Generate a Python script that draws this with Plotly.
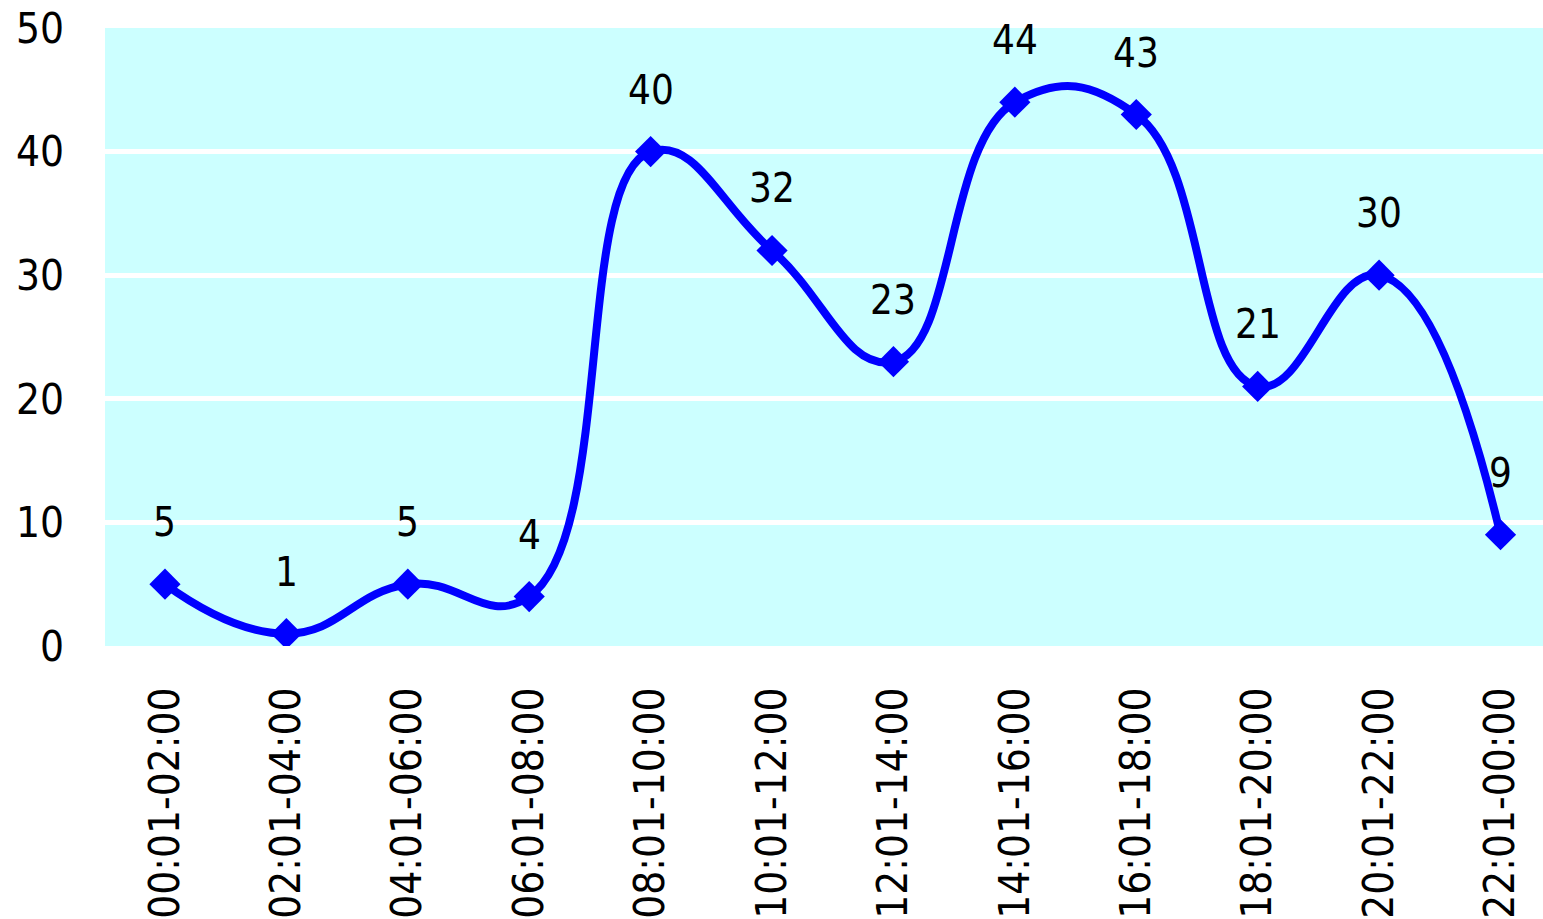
import plotly.graph_objects as go

categories = ["00:01-02:00", "02:01-04:00", "04:01-06:00", "06:01-08:00",
              "08:01-10:00", "10:01-12:00", "12:01-14:00", "14:01-16:00",
              "16:01-18:00", "18:01-20:00", "20:01-22:00", "22:01-00:00"]
values = [5, 1, 5, 4, 40, 32, 23, 44, 43, 21, 30, 9]
y_ticks = [0, 10, 20, 30, 40, 50]

FONT = "DejaVu Sans Condensed, DejaVu Sans, sans-serif"
xpos = list(range(len(categories)))

fig = go.Figure()
fig.add_trace(go.Scatter(
    x=xpos, y=values, mode="lines+markers",
    line=dict(color="#0000FF", width=8, shape="spline", smoothing=1.3),
    marker=dict(symbol="diamond", size=24, color="#0000FF"),
    hoverinfo="skip", showlegend=False,
))

for xv, v in zip(xpos, values):
    fig.add_annotation(x=xv, y=v, text=str(v), showarrow=False,
                       yanchor="middle", xanchor="center", yshift=62,
                       font=dict(family=FONT, size=40, color="#000000"))

fig.update_layout(
    width=1543, height=919,
    margin=dict(l=105, r=0, t=28, b=273),
    paper_bgcolor="#FFFFFF",
    plot_bgcolor="#CCFFFF",
    font=dict(family=FONT, size=40, color="#000000"),
    xaxis=dict(
        range=[-0.494, 11.35], tickmode="array", tickvals=xpos,
        ticktext=categories, tickangle=-90, showgrid=False, zeroline=False,
        showline=False, ticks="", ticklabelstandoff=32,
        tickfont=dict(family=FONT, size=42, color="#000000"),
    ),
    yaxis=dict(
        range=[0, 50], tickmode="array", tickvals=y_ticks,
        showgrid=True, gridcolor="#FFFFFF", gridwidth=5, zeroline=False,
        showline=False, ticks="", ticklabelstandoff=40,
        tickfont=dict(family=FONT, size=42, color="#000000"),
    ),
)

fig.write_html(
    "out.html",
    config={"displayModeBar": False},
    post_script="document.body.style.margin='0';document.body.style.overflow='hidden';",
)
